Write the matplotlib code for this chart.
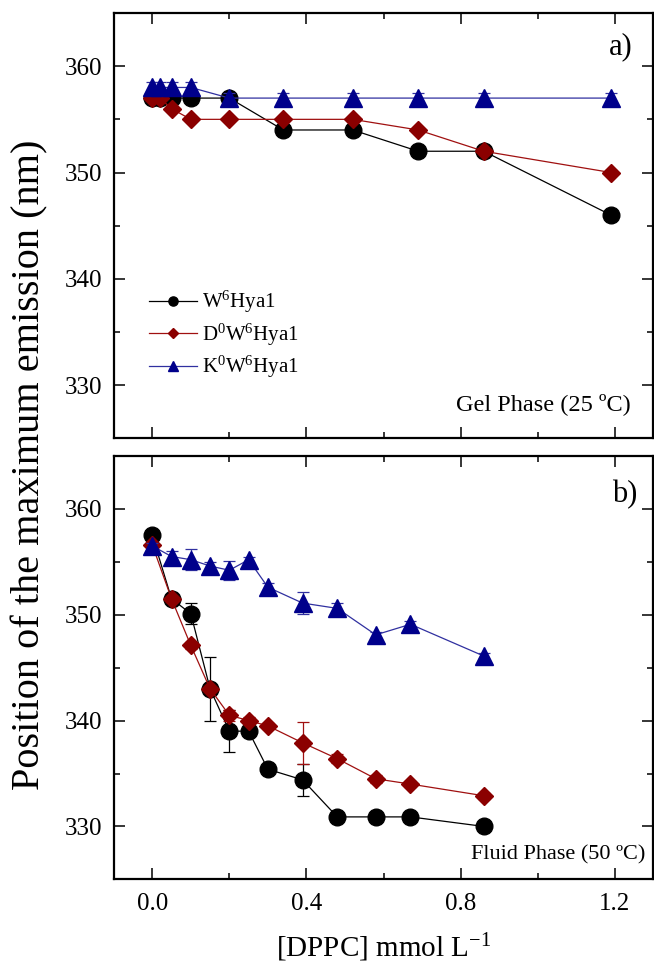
import matplotlib
matplotlib.use("Agg")
import matplotlib.pyplot as plt
from matplotlib.ticker import MultipleLocator

plt.rcParams['font.family'] = ['Liberation Serif', 'DejaVu Serif']
plt.rcParams['mathtext.fontset'] = 'custom'
plt.rcParams['mathtext.rm'] = 'Liberation Serif'
plt.rcParams['mathtext.default'] = 'rm'

# gel phase (25 C)
x_gel = [0.0, 0.02, 0.05, 0.10, 0.20, 0.34, 0.52, 0.69, 0.86, 1.19]
w6_gel = [357, 357, 357, 357, 357, 354, 354, 352, 352, 346]
w6_gel_err = [0.2, 0.2, 0.2, 0.2, 0.2, 0.5, 0.2, 0.2, 0.2, 0.2]
d0_gel = [357, 357, 356, 355, 355, 355, 355, 354, 352, 350]
d0_gel_err = [0.2, 0.2, 0.2, 0.2, 0.2, 0.2, 0.2, 0.2, 0.2, 0.2]
k0_gel = [358, 358, 358, 358, 357, 357, 357, 357, 357, 357]
k0_gel_err = [0.5, 0.5, 0.5, 0.5, 0.5, 0.5, 0.5, 0.5, 0.5, 0.5]

# fluid phase (50 C)
x_fluid = [0.0, 0.05, 0.10, 0.15, 0.20, 0.25, 0.30, 0.39, 0.48, 0.58, 0.67, 0.86]
w6_fluid = [357.5, 351.5, 350.1, 343.0, 339.0, 339.0, 335.4, 334.4, 330.9, 330.9, 330.9, 330.0]
w6_fluid_err = [0.3, 0.3, 1.0, 3.0, 2.0, 0.3, 0.3, 1.5, 0.3, 0.3, 0.3, 0.3]
d0_fluid = [356.6, 351.5, 347.1, 343.0, 340.5, 340.0, 339.5, 337.9, 336.4, 334.5, 334.0, 332.9]
d0_fluid_err = [0.3, 0.3, 0.3, 0.3, 0.5, 0.3, 0.3, 2.0, 0.4, 0.4, 0.3, 0.3]
k0_fluid = [356.5, 355.5, 355.2, 354.6, 354.2, 355.2, 352.6, 351.1, 350.6, 348.1, 349.1, 346.1]
k0_fluid_err = [0.3, 0.5, 1.0, 0.4, 0.9, 0.3, 0.4, 1.0, 0.5, 0.3, 0.3, 0.3]

labels = ['W$^{6}$Hya1', 'D$^{0}$W$^{6}$Hya1', 'K$^{0}$W$^{6}$Hya1']
colors = ['black', '#8b0000', '#00008b']
line_colors = ['black', '#a01010', '#3030a0']
markers = ['o', 'D', '^']
msizes = [12, 9.5, 13]

fig = plt.figure(figsize=(6.54, 9.66), dpi=100)
ax1 = fig.add_axes([0.1739, 0.5463, 0.825, 0.4402])
ax2 = fig.add_axes([0.1739, 0.0897, 0.825, 0.4383])


def draw(ax, x, series, errs):
    for i in range(3):
        ax.errorbar(x, series[i], yerr=errs[i], color=line_colors[i], lw=0.9,
                    marker=markers[i], ms=msizes[i], mfc=colors[i], mec=colors[i],
                    ecolor=line_colors[i], elinewidth=0.9, capsize=4, capthick=0.9,
                    label=labels[i], zorder=3 + i)
    ax.set_xlim(-0.1, 1.3)
    ax.set_ylim(325, 365)
    ax.xaxis.set_major_locator(MultipleLocator(0.4))
    ax.xaxis.set_minor_locator(MultipleLocator(0.2))
    ax.yaxis.set_major_locator(MultipleLocator(10))
    ax.yaxis.set_minor_locator(MultipleLocator(5))
    ax.tick_params(which='both', direction='in', top=True, right=True, width=1.1,
                   labelsize=18)
    ax.tick_params(which='major', length=8)
    ax.tick_params(which='minor', length=4.5)
    ax.tick_params(axis='y', which='major', pad=8)
    ax.tick_params(axis='x', which='major', pad=10)
    for s in ax.spines.values():
        s.set_linewidth(1.6)


draw(ax1, x_gel, [w6_gel, d0_gel, k0_gel], [w6_gel_err, d0_gel_err, k0_gel_err])
draw(ax2, x_fluid, [w6_fluid, d0_fluid, k0_fluid], [w6_fluid_err, d0_fluid_err, k0_fluid_err])
ax1.tick_params(labelbottom=False)

ax1.text(0.962, 0.955, 'a)', transform=ax1.transAxes, ha='right', va='top', fontsize=22)
ax2.text(0.970, 0.943, 'b)', transform=ax2.transAxes, ha='right', va='top', fontsize=22)
ax1.text(0.958, 0.055, 'Gel Phase (25 ºC)', transform=ax1.transAxes, ha='right',
         va='bottom', fontsize=17.5)
ax2.text(0.985, 0.035, 'Fluid Phase (50 ºC)', transform=ax2.transAxes, ha='right',
         va='bottom', fontsize=16)

handles, labs = ax1.get_legend_handles_labels()
handles = [h[0] for h in handles]
ax1.legend(handles, labs, loc='upper left', bbox_to_anchor=(0.05, 0.37), frameon=False,
           fontsize=15, markerscale=0.55, handlelength=2.3, handletextpad=0.25,
           labelspacing=0.3, borderaxespad=0)

ax2.set_xlabel('[DPPC] mmol L$^{-1}$', fontsize=21, labelpad=12)
fig.text(0.046, 0.519, 'Position of the maximum emission (nm)', rotation=90,
         ha='center', va='center', fontsize=29)

fig.savefig('out.png', dpi=100)
